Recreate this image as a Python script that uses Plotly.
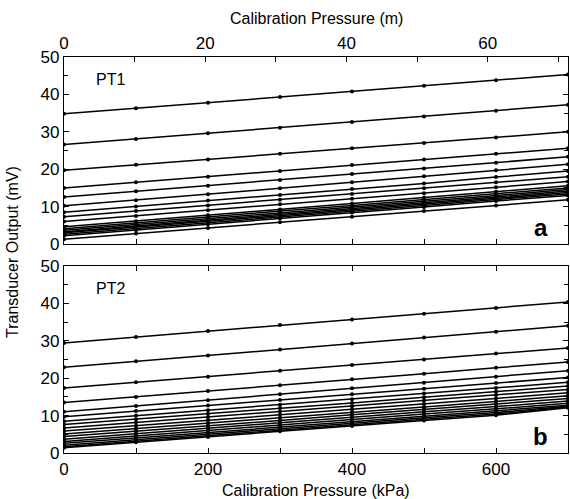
import plotly.graph_objects as go

pressure_kpa = [0, 100, 200, 300, 400, 500, 600, 700]

pt1_series = [
    [34.8, 36.3, 37.8, 39.3, 40.8, 42.3, 43.8, 45.3],
    [26.6, 28.1, 29.6, 31.1, 32.6, 34.1, 35.6, 37.2],
    [19.7, 21.2, 22.6, 24.1, 25.6, 27.0, 28.5, 30.0],
    [15.0, 16.5, 18.0, 19.5, 21.1, 22.6, 24.1, 25.6],
    [12.6, 14.1, 15.6, 17.1, 18.7, 20.2, 21.7, 23.3],
    [10.2, 11.7, 13.3, 14.9, 16.5, 18.1, 19.7, 21.3],
    [8.5, 10.0, 11.6, 13.1, 14.7, 16.2, 17.9, 19.5],
    [7.3, 8.8, 10.3, 11.8, 13.4, 14.9, 16.5, 18.0],
    [6.0, 7.5, 9.0, 10.6, 12.1, 13.6, 15.2, 16.7],
    [4.6, 6.1, 7.7, 9.2, 10.8, 12.4, 14.0, 15.6],
    [4.1, 5.7, 7.2, 8.8, 10.3, 11.9, 13.4, 15.0],
    [3.7, 5.2, 6.8, 8.3, 9.9, 11.4, 13.0, 14.6],
    [3.3, 4.8, 6.4, 7.9, 9.5, 11.0, 12.6, 14.2],
    [3.0, 4.5, 6.0, 7.6, 9.1, 10.7, 12.2, 13.8],
    [2.6, 4.1, 5.7, 7.2, 8.8, 10.3, 11.9, 13.4],
    [2.2, 3.7, 5.3, 6.8, 8.4, 9.9, 11.5, 13.0],
    [1.3, 2.8, 4.3, 5.8, 7.3, 8.8, 10.3, 11.8],
]

pt2_series = [
    [29.4, 31.0, 32.6, 34.2, 35.7, 37.2, 38.8, 40.4],
    [22.9, 24.5, 26.1, 27.7, 29.3, 30.9, 32.4, 34.0],
    [17.4, 18.9, 20.4, 22.0, 23.5, 25.0, 26.6, 28.1],
    [13.5, 15.0, 16.6, 18.1, 19.7, 21.2, 22.8, 24.3],
    [11.0, 12.6, 14.1, 15.7, 17.3, 18.8, 20.4, 22.0],
    [9.7, 11.2, 12.7, 14.2, 15.7, 17.2, 18.7, 20.2],
    [8.5, 10.0, 11.4, 12.9, 14.4, 15.9, 17.4, 18.9],
    [7.6, 9.0, 10.5, 12.0, 13.4, 14.9, 16.4, 17.9],
    [6.7, 8.2, 9.6, 11.1, 12.5, 14.0, 15.5, 17.0],
    [5.9, 7.3, 8.8, 10.2, 11.7, 13.1, 14.6, 16.1],
    [5.1, 6.5, 8.0, 9.4, 10.9, 12.3, 13.8, 15.3],
    [4.4, 5.8, 7.3, 8.7, 10.2, 11.6, 13.1, 14.6],
    [3.7, 5.2, 6.6, 8.1, 9.5, 11.0, 12.4, 13.9],
    [3.1, 4.6, 6.0, 7.5, 8.9, 10.4, 11.8, 13.3],
    [2.6, 4.0, 5.5, 6.9, 8.4, 9.8, 11.3, 12.8],
    [2.1, 3.6, 5.0, 6.5, 7.9, 9.4, 10.8, 12.5],
    [1.7, 3.2, 4.6, 6.1, 7.5, 9.0, 10.4, 12.3],
    [1.4, 2.9, 4.3, 5.8, 7.2, 8.7, 10.1, 12.1],
]

m_ticks = [0, 20, 40, 60]
kpa_ticks = [0, 200, 400, 600]
mv_ticks = [0, 10, 20, 30, 40, 50]
KPA_PER_M = 9.81

FONT = "Liberation Sans, Arial, Helvetica, sans-serif"

fig = go.Figure()
for s in pt1_series:
    fig.add_trace(go.Scatter(x=pressure_kpa, y=s, mode="lines+markers",
                             line=dict(color="black", width=1.5),
                             marker=dict(color="black", size=4),
                             xaxis="x", yaxis="y", showlegend=False))
for s in pt2_series:
    fig.add_trace(go.Scatter(x=pressure_kpa, y=s, mode="lines+markers",
                             line=dict(color="black", width=1.5),
                             marker=dict(color="black", size=4),
                             xaxis="x2", yaxis="y2", showlegend=False))
# invisible trace for the top metre axis
fig.add_trace(go.Scatter(x=[0, 700 / KPA_PER_M], y=[None, None], mode="markers",
                         xaxis="x3", yaxis="y", showlegend=False, hoverinfo="skip"))

W, H = 570, 499
ml, mr, mt, mb = 64, 2, 57, 46
ph = H - mt - mb
top_dom = [(H - mb - 244) / ph, 1.0]
bot_dom = [0.0, (H - mb - 266) / ph]

tickfont = dict(family=FONT, size=17, color="black")
common_x = dict(range=[0, 700], showline=True, linecolor="black", linewidth=1.3,
                ticks="inside", ticklen=5, tickcolor="black", tickwidth=1,
                showgrid=False, zeroline=False, tickfont=tickfont,
                tickvals=kpa_ticks,
                minor=dict(dtick=100, ticks="inside", ticklen=5, tickcolor="black"))
common_y = dict(range=[0, 50], showline=True, linecolor="black", linewidth=1.3,
                ticks="inside", ticklen=5, tickcolor="black", tickwidth=1,
                showgrid=False, zeroline=False, tickfont=tickfont,
                tickvals=mv_ticks, mirror="ticks",
                minor=dict(dtick=5, ticks="inside", ticklen=4, tickcolor="black"))

fig.update_layout(
    width=W, height=H,
    margin=dict(l=ml, r=mr, t=mt, b=mb),
    paper_bgcolor="white", plot_bgcolor="white",
    font=dict(family=FONT, color="black"),
    xaxis=dict(common_x, domain=[0, 1], anchor="y", showticklabels=False, mirror=False),
    yaxis=dict(common_y, domain=top_dom, anchor="x"),
    xaxis2=dict(common_x, domain=[0, 1], anchor="y2", mirror="ticks"),
    yaxis2=dict(common_y, domain=bot_dom, anchor="x2"),
    xaxis3=dict(range=[0, 700 / KPA_PER_M], overlaying="x", anchor="y", side="top",
                showline=True, linecolor="black", linewidth=1.3,
                ticks="inside", ticklen=5, tickcolor="black",
                tickvals=m_ticks, showgrid=False, zeroline=False, tickfont=tickfont,
                minor=dict(dtick=10, ticks="inside", ticklen=5, tickcolor="black")),
)

def py(pix):
    return (H - mb - pix) / ph

fig.add_annotation(text="Calibration Pressure (m)", xref="paper", yref="paper",
                   x=0.5, y=py(18), xanchor="center", yanchor="middle",
                   showarrow=False, font=dict(family=FONT, size=16))
fig.add_annotation(text="Calibration Pressure (kPa)", xref="paper", yref="paper",
                   x=0.5, y=py(490), xanchor="center", yanchor="middle",
                   showarrow=False, font=dict(family=FONT, size=16))
fig.add_annotation(text="Transducer Output (mV)", xref="paper", yref="paper",
                   x=(12 - ml) / (W - ml - mr), y=py(252), textangle=-90,
                   xanchor="center", yanchor="middle",
                   showarrow=False, font=dict(family=FONT, size=16))
fig.add_annotation(text="PT1", xref="x", yref="y", x=42, y=44, xanchor="left",
                   yanchor="middle", showarrow=False, font=dict(family=FONT, size=16))
fig.add_annotation(text="PT2", xref="x2", yref="y2", x=42, y=44, xanchor="left",
                   yanchor="middle", showarrow=False, font=dict(family=FONT, size=16))
fig.add_annotation(text="<b>a</b>", xref="x", yref="y", x=675, y=4.5, xanchor="right",
                   yanchor="middle", showarrow=False, font=dict(family=FONT, size=24))
fig.add_annotation(text="<b>b</b>", xref="x2", yref="y2", x=675, y=4.5, xanchor="right",
                   yanchor="middle", showarrow=False, font=dict(family=FONT, size=24))

fig.write_html("out.html")
